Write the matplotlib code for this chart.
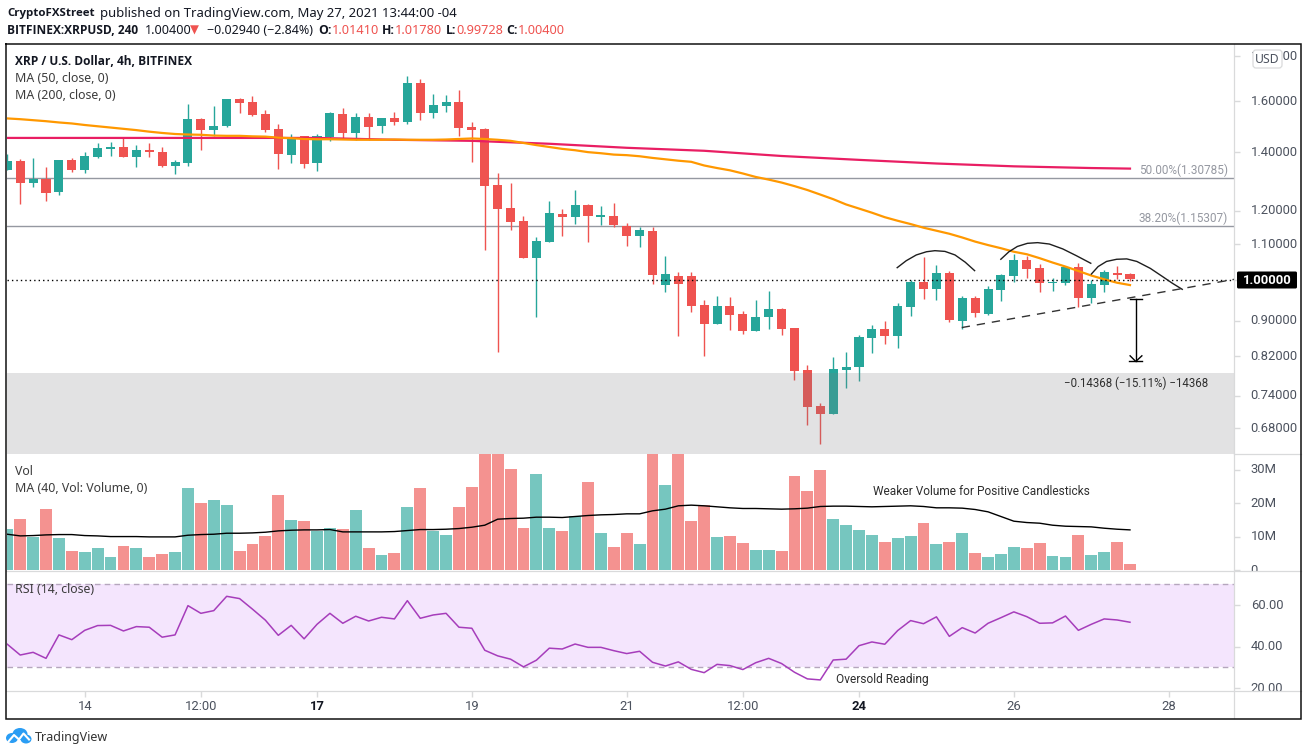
import numpy as np
import matplotlib
matplotlib.use('Agg')
import matplotlib.pyplot as plt
from matplotlib.patches import FancyBboxPatch, Ellipse
from matplotlib.transforms import Bbox, ScaledTranslation
from matplotlib.ticker import NullLocator

# ---------- data ----------
BODY_TOP = [1.367,1.367,1.304,1.304,1.371,1.371,1.385,1.415,1.418,1.418,1.407,1.407,1.400,1.364,1.526,1.526,1.498,1.608,1.608,1.596,1.546,1.487,1.456,1.460,1.460,1.550,1.546,1.534,1.534,1.530,1.530,1.677,1.677,1.583,1.596,1.596,1.495,1.487,1.284,1.209,1.169,1.109,1.193,1.190,1.219,1.219,1.187,1.184,1.153,1.141,1.138,1.017,1.012,1.012,0.938,0.935,0.935,0.916,0.909,0.928,0.928,0.883,0.791,0.720,0.793,0.797,0.863,0.881,0.881,0.935,0.996,0.996,1.020,1.020,0.955,0.955,0.978,1.015,1.055,1.055,1.033,0.996,1.036,1.036,0.991,1.023,1.020,1.017]
BODY_BOT = [1.335,1.291,1.291,1.257,1.261,1.335,1.335,1.382,1.411,1.382,1.382,1.400,1.350,1.350,1.360,1.483,1.483,1.498,1.591,1.542,1.483,1.393,1.389,1.357,1.360,1.456,1.471,1.471,1.495,1.498,1.514,1.514,1.550,1.550,1.579,1.491,1.483,1.281,1.206,1.165,1.061,1.061,1.106,1.181,1.181,1.184,1.181,1.156,1.124,1.124,1.015,0.988,0.991,0.935,0.892,0.892,0.914,0.876,0.876,0.909,0.881,0.789,0.718,0.705,0.705,0.791,0.797,0.860,0.865,0.865,0.933,0.978,0.978,0.902,0.899,0.918,0.916,0.975,1.012,1.031,0.993,0.993,0.993,0.955,0.955,0.988,1.015,1.004]
HIGH = [1.393,1.374,1.378,1.346,1.371,1.378,1.400,1.433,1.437,1.452,1.426,1.433,1.418,1.371,1.587,1.530,1.579,1.608,1.612,1.621,1.563,1.506,1.467,1.460,1.467,1.554,1.571,1.550,1.550,1.530,1.554,1.708,1.695,1.629,1.625,1.647,1.514,1.491,1.325,1.291,1.184,1.121,1.231,1.206,1.267,1.222,1.215,1.225,1.162,1.150,1.150,1.066,1.023,1.023,0.950,0.960,0.958,0.923,0.950,0.973,0.931,0.883,0.802,0.726,0.819,0.829,0.867,0.890,0.899,0.943,1.001,1.063,1.041,1.025,0.960,0.960,0.986,1.017,1.072,1.066,1.044,1.007,1.039,1.047,1.001,1.028,1.039,1.020]
LOW = [1.335,1.222,1.277,1.231,1.251,1.328,1.325,1.378,1.385,1.382,1.346,1.382,1.346,1.322,1.350,1.407,1.460,1.495,1.550,1.538,1.475,1.339,1.360,1.342,1.332,1.441,1.452,1.445,1.445,1.471,1.502,1.506,1.522,1.530,1.554,1.460,1.364,1.083,0.829,1.141,1.061,0.909,1.106,1.124,1.159,1.106,1.156,1.150,1.095,1.092,0.991,0.970,0.865,0.921,0.821,0.892,0.878,0.869,0.876,0.881,0.867,0.771,0.685,0.652,0.705,0.755,0.769,0.827,0.847,0.838,0.911,0.953,0.950,0.897,0.881,0.909,0.914,0.948,0.996,1.007,0.970,0.973,0.988,0.933,0.943,0.970,1.004,0.999]
DIRECTION = "g r g r g r g g g r g r r g g r g g r r r r g r g g r g r g r g r g g r r r r r r g g r g r g r r g r g r r r g r r g g r r r r g g g g r g g r g r g r g g g r r g g r g g r r".split()
MA50 = [1.528,1.525,1.521,1.517,1.512,1.508,1.502,1.497,1.492,1.487,1.482,1.476,1.471,1.467,1.465,1.464,1.461,1.460,1.460,1.458,1.457,1.453,1.451,1.448,1.447,1.447,1.446,1.445,1.445,1.445,1.446,1.445,1.445,1.445,1.446,1.448,1.450,1.448,1.445,1.441,1.433,1.425,1.418,1.411,1.406,1.399,1.395,1.390,1.388,1.384,1.378,1.373,1.368,1.364,1.351,1.342,1.334,1.323,1.311,1.302,1.292,1.280,1.267,1.252,1.237,1.220,1.207,1.194,1.180,1.169,1.159,1.148,1.139,1.130,1.119,1.107,1.097,1.088,1.078,1.071,1.060,1.048,1.037,1.025,1.013,1.003,0.994,0.988]
MA200_BAR = [0,6,12,18,24,30,36,42,48,54,60,66,72,78,84,87]
MA200 = [1.452,1.452,1.452,1.452,1.452,1.445,1.441,1.430,1.415,1.404,1.385,1.371,1.358,1.348,1.342,1.340]
VOLUME = [12.3,15.3,9.9,18.3,9.6,5.7,5.4,6.6,3.9,7.2,6.6,3.9,4.8,5.4,24.6,20.1,21.0,19.5,5.7,7.8,10.2,22.5,15.0,14.7,11.7,12.6,12.3,18.0,6.6,4.5,5.1,18.9,24.6,11.7,10.5,18.9,24.9,35.9,35.9,30.2,12.6,28.7,12.6,11.7,16.2,26.3,11.1,6.9,11.1,7.8,37.9,25.4,37.9,14.7,19.5,9.9,10.2,8.1,6.0,6.0,5.7,28.1,23.7,29.9,15.3,13.5,12.0,10.5,8.4,9.6,10.2,14.1,7.8,8.4,11.1,5.1,3.9,4.8,6.9,6.6,8.1,4.2,3.9,10.5,4.5,5.4,8.4,1.8]
VOL_MA = [10.7,10.2,10.3,10.5,10.6,10.6,10.3,10.2,10.0,10.0,10.0,9.9,9.9,9.9,10.4,10.6,10.7,11.0,11.0,11.1,11.3,11.7,11.9,12.0,12.0,12.1,11.4,11.4,11.4,11.4,11.5,11.8,12.1,12.1,12.2,12.4,12.8,13.4,15.2,15.4,15.5,15.8,15.8,15.7,16.0,16.3,16.5,16.6,16.8,16.8,17.7,18.2,19.2,19.4,19.2,18.9,18.6,18.4,18.4,18.3,18.2,18.3,18.5,19.0,19.1,19.1,19.0,18.9,19.0,19.1,19.2,19.0,18.6,18.6,18.5,18.1,17.4,16.0,14.6,14.2,14.0,13.4,13.1,13.0,12.9,12.5,12.2,12.0]
RSI = [41.1,35.9,37.2,34.3,45.6,43.3,47.8,50.1,50.2,47.5,49.6,49.3,44.5,45.6,59.7,56.0,57.3,64.2,63.1,58.0,52.7,45.4,50.2,43.7,50.7,56.0,51.2,54.6,52.3,54.1,53.3,62.1,53.6,55.2,56.0,49.3,48.8,38.2,35.5,33.9,30.2,33.4,39.2,38.8,41.2,39.6,39.6,38.0,36.6,37.7,32.4,30.6,32.6,29.0,27.4,31.4,30.8,28.9,32.2,34.3,31.8,27.6,24.4,23.9,33.5,33.9,40.4,42.2,41.1,47.7,52.5,51.0,54.3,44.9,49.1,46.5,51.2,53.9,56.7,54.4,51.2,51.4,54.7,47.8,50.7,53.3,52.8,51.7]

FIB_LEVELS = [1.30785, 1.15307]
FIB_LABELS = ["50.00%(1.30785)", "38.20%(1.15307)"]
LAST_PRICE = 1.0
ZONE_PRICE = (0.635, 0.785)
ARC1_X = [68.96,69.66,70.44,71.23,71.88,72.66,73.44,74.23,74.96]
ARC1_Y = [1.034,1.053,1.069,1.078,1.081,1.079,1.069,1.049,1.026]
ARC2_X = [76.99,77.62,78.27,79.05,79.84,80.75,81.79,82.84,83.96]
ARC2_Y = [1.057,1.078,1.093,1.102,1.104,1.1,1.086,1.067,1.046]
ARC3_X = [84.01,84.53,85.18,85.97,86.75,87.53,88.58,89.62,90.27,91.05]
ARC3_Y = [1.017,1.037,1.051,1.057,1.058,1.051,1.032,1.008,0.993,0.977]
TREND_X = [73.96,95.1]
TREND_Y = [0.884,1.003]
ARROW_X = 87.45
ARROW_TOP, ARROW_BOTTOM, ARROW_HEAD = 0.953, 0.809, 0.821

PRICE_TICKS = [1.8,1.6,1.4,1.2,1.1,0.9,0.82,0.74,0.68]
VOL_TICKS = [0,10,20,30]
VOL_TICK_LABELS = ["0","10M","20M","30M"]
RSI_TICKS = [20,40,60]
TIME_TICKS = [6,15,24,36,48,57,66,78,90]
TIME_LABELS = ["14","12:00","17","19","21","12:00","24","26","28"]
TIME_STRONG = {"17","24"}

# ---------- layout ----------
W, H = 1307, 755
UP, DOWN = '#26a69a', '#ef5350'
AXIS = '#d9dadb'
TXT = '#4c525e'
NOTE = '#2e2e2e'
fig = plt.figure(figsize=(W/100, H/100), dpi=100, facecolor='white')
def axpx(x0, y0, x1, y1, **kw):
    return fig.add_axes([x0/W, 1-y1/H, (x1-x0)/W, (y1-y0)/H], **kw)
ax1 = axpx(6.5, 43.5, 1234, 454)
ax2 = axpx(6.5, 454, 1234, 571)
ax3 = axpx(6.5, 571, 1234, 690.5)
x = np.arange(len(BODY_TOP))
for a in (ax1, ax2, ax3):
    a.set_xlim(-0.062, 95.06)
    for s in a.spines.values():
        s.set_visible(False)
    a.yaxis.tick_right()
    a.tick_params(axis='y', length=4, width=1, color=AXIS, labelcolor=TXT, labelsize=9.4, pad=8)
    a.tick_params(axis='x', length=0)
    a.set_xticks([])
    a.patch.set_alpha(0)

# ---------- price pane ----------
ax1.set_yscale('log')
ax1.set_ylim(0.635, 1.859)
ax1.yaxis.set_minor_locator(NullLocator())
ax1.set_yticks(PRICE_TICKS + [LAST_PRICE])
ax1.set_yticklabels([f"{p:.5f}" for p in PRICE_TICKS] + [""], family='Roboto')
colors = [UP if d == 'g' else DOWN for d in DIRECTION]
for fl in FIB_LEVELS:
    ax1.axhline(fl, color='#9598a1', lw=1, zorder=1)
ax1.vlines(x, LOW, HIGH, colors=colors, lw=1.0, zorder=2)
ax1.bar(x, np.array(BODY_TOP)-np.array(BODY_BOT), bottom=BODY_BOT, width=0.70, color=colors, lw=0, zorder=3)
ax1.plot(MA200_BAR, MA200, color='#e91e63', lw=1.6, zorder=4)
ax1.plot(x, MA50, color='#ff9800', lw=1.6, zorder=4)
ax1.axhline(LAST_PRICE, color='black', lw=1, ls=(0, (1, 2.2)), zorder=4)
ax1.axhspan(*ZONE_PRICE, color='#7b7b80', alpha=0.22, lw=0, zorder=5)
for fl, lb in zip(FIB_LEVELS, FIB_LABELS):
    ax1.text(94.6, fl*1.002, lb, color='#9598a1', ha='right', va='bottom', fontsize=8.5, family='Roboto')
for ax_, ay_ in ((ARC1_X, ARC1_Y), (ARC2_X, ARC2_Y), (ARC3_X, ARC3_Y)):
    ax1.plot(ax_, ay_, color='#1e1e1e', lw=1, zorder=6)
ax1.plot(TREND_X, TREND_Y, color='#333333', lw=1, ls=(0, (6, 5)), zorder=6)
ax1.plot([ARROW_X, ARROW_X], [ARROW_TOP, ARROW_BOTTOM], color='black', lw=1, zorder=6)
ax1.plot([ARROW_X-0.45, ARROW_X+0.45], [ARROW_TOP, ARROW_TOP], color='black', lw=1, zorder=6)
ax1.plot([ARROW_X-0.5, ARROW_X+0.47], [ARROW_BOTTOM, ARROW_BOTTOM], color='black', lw=1, zorder=6)
ax1.plot([ARROW_X-0.44, ARROW_X, ARROW_X+0.47], [ARROW_HEAD, ARROW_BOTTOM, ARROW_HEAD], color='black', lw=1, zorder=6)
ax1.text(ARROW_X, 0.765, "\u22120.14368 (\u221215.11%) \u221214368", ha='center', va='center',
         color=NOTE, fontsize=8.3, family='Roboto', zorder=7)

# ---------- volume pane ----------
ax2.set_ylim(-0.3, 34.7)
ax2.bar(x, VOLUME, width=0.92, color=colors, alpha=0.63, lw=0, zorder=2)
ax2.plot(x, VOL_MA, color='black', lw=1, zorder=3)
ax2.set_yticks(VOL_TICKS)
ax2.set_yticklabels(VOL_TICK_LABELS, family='Roboto')
ax2.text(75.5, 23.4, "Weaker Volume for Positive Candlesticks", ha='center', va='center',
         color=NOTE, fontsize=8.6, family='Roboto')

# ---------- RSI pane ----------
ax3.set_ylim(18.8, 76.4)
ax3.axhspan(30, 70, color='#f4e5fd', lw=0, zorder=1)
for lvl in (30, 70):
    ax3.axhline(lvl, color='#b5a6bd', lw=1, ls=(0, (4, 3)), zorder=2)
ax3.plot(x, RSI, color='#a63dbb', lw=1.1, zorder=3)
ax3.set_yticks(RSI_TICKS)
ax3.set_yticklabels([f"{t:.2f}" for t in RSI_TICKS], family='Roboto')
ax3.set_xticks(TIME_TICKS)
ax3.set_xticklabels(TIME_LABELS, family='Roboto')
ax3.tick_params(axis='x', length=4, width=1, color=AXIS, labelsize=9.4, pad=2.6)
for lab, t in zip(ax3.get_xticklabels(), TIME_LABELS):
    lab.set_color('#131722' if t in TIME_STRONG else TXT)
    if t in TIME_STRONG:
        lab.set_fontweight('bold')
ax3.text(67.8, 23.9, "Oversold Reading", ha='center', va='center', color=NOTE, fontsize=8.6, family='Roboto')

# tick labels sit a little above their ticks and are cut by the pane edge
up_shift = ScaledTranslation(0, 1.3/100, fig.dpi_scale_trans)
for a, box in ((ax1, [[1234, H-454], [1301, H-43.5]]),
               (ax2, [[1234, H-570.6], [1301, H-454]]),
               (ax3, [[1234, H-690.5], [1301, H-571]])):
    for lab in a.get_yticklabels():
        lab.set_transform(lab.get_transform() + up_shift)
        lab.set_clip_on(True)
        lab.set_clip_box(Bbox(box))

# ---------- overlay in pixel units: frame, separators, texts ----------
ov = fig.add_axes([0, 0, 1, 1], zorder=20)
ov.set_xlim(0, W); ov.set_ylim(H, 0); ov.axis('off')
ov.plot([1234, 1234], [43.5, 718], color=AXIS, lw=0.9)
ov.plot([6, 1301], [571, 571], color=AXIS, lw=0.9)
ov.plot([6, 1301], [690.5, 690.5], color=AXIS, lw=0.9)
ov.plot([1234, 1301], [454, 454], color=AXIS, lw=0.9)
ov.plot([6, 1301, 1301, 6, 6], [43.5, 43.5, 718.5, 718.5, 43.5], color='#111111', lw=1.1, solid_joinstyle='miter')
F, FB = 'Noto Sans', 'Open Sans'
def T(px, py, s, size=8.9, weight='normal', color='#131722', family=None, ha='left'):
    fam = family or (FB if weight == 'bold' else F)
    ov.text(px, py+0.8, s, fontsize=size, fontweight=weight, color=color, family=fam, ha=ha, va='center')
T(7, 12.7, "CryptoFXStreet", weight='bold', size=8.25)
T(99.5, 12.7, "published on TradingView.com, May 27, 2021 13:44:00 -04", size=9.45)
T(7, 29.3, "BITFINEX:XRPUSD, 240", weight='bold', size=8.55)
T(144.7, 29.3, "1.00400", size=9.1)
T(189.6, 29.3, "\u25BC", color=DOWN, family='DejaVu Sans', size=8.4)
T(207, 29.3, "\u22120.02940 (\u22122.84%)", size=9)
for px, lb, pv, val in ((318, "O:", 331.4, "1.01410"), (381.5, "H:", 395, "1.01780"),
                        (445.8, "L:", 456.5, "0.99728"), (506, "C:", 517.8, "1.00400")):
    T(px, 29.3, lb, weight='bold', size=8.8)
    T(pv, 29.3, val, color=DOWN, size=9.2)
T(15, 60.7, "XRP / U.S. Dollar, 4h, BITFINEX", weight='bold', size=8.6)
T(15, 77.7, "MA (50, close, 0)", color='#3c3c3c')
T(15, 94.7, "MA (200, close, 0)", color='#3c3c3c')
T(15, 470.7, "Vol", color='#3c3c3c')
T(15, 487.7, "MA (40, Vol: Volume, 0)", color='#3c3c3c')
T(15, 589, "RSI (14, close)", color='#3c3c3c')
ov.add_patch(FancyBboxPatch((1255, 52), 25, 14, boxstyle='round,pad=2,rounding_size=3', fc='white', ec='#d9dadb', lw=0.9, zorder=5))
ov.text(1267.5, 59.5, "USD", fontsize=8.8, color=TXT, family=F, ha='center', va='center', zorder=6)
ov.add_patch(FancyBboxPatch((1238, 272.5), 58, 15, boxstyle='round,pad=1,rounding_size=1.5', fc='black', ec='black', lw=0, zorder=5))
ov.text(1267, 280.3, f"{LAST_PRICE:.5f}", fontsize=9.4, fontweight='bold', color='white', family='Roboto', ha='center', va='center', zorder=6)
# logo
BLUE = '#2a9df4'
for cx, cy, rx, ry in ((12, 738, 6, 5), (20, 734, 7.5, 6), (26, 739, 5.5, 4.5)):
    ov.add_patch(Ellipse((cx, cy), 2*rx, 2*ry, fc=BLUE, ec='none', zorder=5))
ov.plot([8.5, 14, 19, 23.5, 29], [741.5, 735, 739.5, 733.5, 739.5], color='white', lw=1.5, zorder=6)
T(34.4, 736.2, "TradingView", size=9, color='#333333')

fig.savefig('out.png', dpi=100, facecolor='white')
